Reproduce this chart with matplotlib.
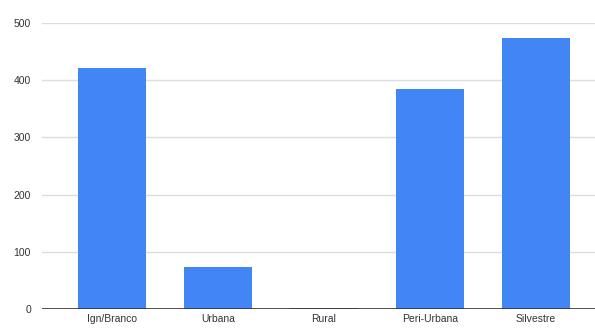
import matplotlib
matplotlib.use("Agg")
import matplotlib.pyplot as plt

categories = ["Ign/Branco", "Urbana", "Rural", "Peri-Urbana", "Silvestre"]
values = [422, 73, 2, 385, 475]
yticks = [0, 100, 200, 300, 400, 500]

plt.rcParams["font.family"] = ["Liberation Sans", "DejaVu Sans"]

fig = plt.figure(figsize=(5.95, 3.32), dpi=100)
ax = fig.add_axes([0.0706, 0.0702, 0.9294, 0.8596])
x = list(range(len(categories)))
ax.bar(x, values, width=0.64, color="#4285F4", zorder=3)
ax.set_xlim(-0.66, 4.56)
ax.set_ylim(0, 500)
ax.set_yticks(yticks)
ax.set_yticklabels([str(t) for t in yticks])
ax.set_xticks(x)
ax.set_xticklabels(categories)
ax.grid(axis="y", color="#dcdcdc", linewidth=1, zorder=0)
ax.axhline(0, color="#333333", linewidth=1.2, zorder=4)
for s in ax.spines.values():
    s.set_visible(False)
ax.tick_params(axis="both", length=0, labelsize=7.5, labelcolor="#333333")
ax.tick_params(axis="y", pad=8)
ax.tick_params(axis="x", pad=4)
fig.savefig("out.png", dpi=100)
